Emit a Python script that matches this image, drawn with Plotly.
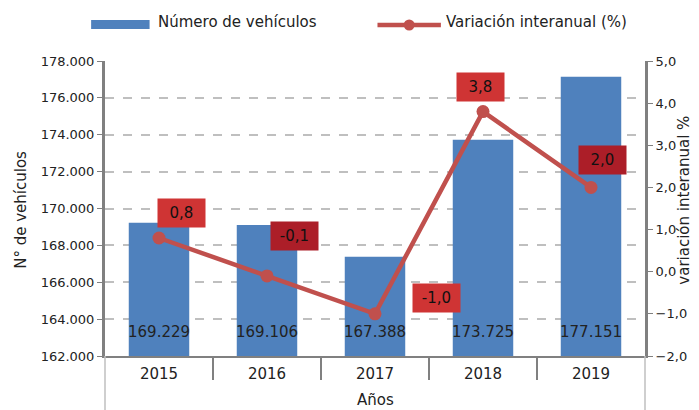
import plotly.graph_objects as go

years = ["2015", "2016", "2017", "2018", "2019"]
vehicles = [169229, 169106, 167388, 173725, 177151]
variation = [0.8, -0.1, -1.0, 3.8, 2.0]
var_labels = ["0,8", "-0,1", "-1,0", "3,8", "2,0"]
veh_labels = ["169.229", "169.106", "167.388", "173.725", "177.151"]

y1_range = [162000, 178000]
y2_range = [-2.0, 5.0]

BLUE = "#4F81BD"
RED = "#C0504D"
GRAY = "#808080"
FONT = "DejaVu Sans"
TXT = "#222222"

W, H = 699, 410
# plot area on screen spans x 105..650, y 61..356


def px(x):
    return (x - 105) / 545


def py(y):
    return (356 - y) / 295


fig = go.Figure()
fig.add_trace(go.Bar(x=list(range(5)), y=vehicles, marker=dict(color=BLUE, line=dict(width=0)),
                     width=0.56, showlegend=False, yaxis="y", hoverinfo="skip"))
fig.add_trace(go.Scatter(x=list(range(5)), y=variation, mode="lines+markers", yaxis="y2",
                         line=dict(color=RED, width=4.5), marker=dict(color=RED, size=13),
                         showlegend=False))

ann = []
for i, t in enumerate(veh_labels):
    ann.append(dict(x=i, y=y1_range[0], xref="x", yref="y", text=t, showarrow=False,
                    yanchor="bottom", yshift=13, font=dict(size=15, color=TXT, family=FONT)))
shifts = [(22, 25), (27, 40), (61, 16), (-3, 25), (11, 27)]
box_colors = ["#CF3434", "#AC1E28", "#CF3434", "#CF3434", "#AC1E28"]
for i, t in enumerate(var_labels):
    dx, dy = shifts[i]
    ann.append(dict(x=i, y=variation[i], xref="x", yref="y2", text=t, showarrow=False,
                    xshift=dx, yshift=dy, bgcolor=box_colors[i], borderpad=4,
                    width=39, height=20,
                    font=dict(size=15, color="#111111", family=FONT)))


def paper_text(x, y, text, angle=0, anchor="center", size=15):
    return dict(x=px(x), y=py(y), xref="paper", yref="paper", text=text, showarrow=False,
                textangle=angle, xanchor=anchor, yanchor="middle",
                font=dict(size=size, color=TXT, family=FONT))


ann.append(paper_text(20, 210, "N° de vehículos", -90))
ann.append(paper_text(689, 200, "variación interanual %", -90, size=15))
ann.append(paper_text(378, 400, "Años"))
ann.append(paper_text(156, 22, "Número de vehículos", anchor="left"))
ann.append(paper_text(447, 22, "Variación interanual (%)", anchor="left"))

shapes = []
shapes.append(dict(type="rect", xref="paper", yref="paper", x0=px(91), x1=px(150),
                   y0=py(29), y1=py(20), fillcolor=BLUE, line=dict(width=0)))
shapes.append(dict(type="line", xref="paper", yref="paper", x0=px(380), x1=px(444),
                   y0=py(25), y1=py(25), line=dict(color=RED, width=4.5)))
shapes.append(dict(type="circle", xref="paper", yref="paper", x0=px(406.5), x1=px(417.5),
                   y0=py(30.5), y1=py(19.5), fillcolor=RED, line=dict(width=0)))
for k in range(1, 5):
    xx = 105 + 109 * k
    shapes.append(dict(type="line", xref="paper", yref="paper", x0=px(xx), x1=px(xx),
                       y0=0, y1=py(380), line=dict(color=GRAY, width=2)))
for xx in (105, 650):
    shapes.append(dict(type="line", xref="paper", yref="paper", x0=px(xx), x1=px(xx),
                       y0=0, y1=py(415), line=dict(color="#BFBFBF", width=1.5)))

fig.update_layout(
    width=W, height=H,
    margin=dict(l=105, r=W - 650, t=61, b=H - 356),
    paper_bgcolor="white", plot_bgcolor="white",
    separators=",.",
    font=dict(family=FONT, size=13, color=TXT),
    xaxis=dict(type="linear", range=[-0.5, 4.5], tickvals=list(range(5)), ticktext=years,
               showgrid=False, zeroline=False, showline=True, linecolor=GRAY, linewidth=2,
               ticks="", tickfont=dict(size=15), ticklabelstandoff=3),
    yaxis=dict(range=y1_range, dtick=2000, tickformat=",d", showgrid=True,
               gridcolor="#BFBFBF", griddash="dash", gridwidth=1.5, zeroline=False,
               showline=True, linecolor=GRAY, linewidth=3, ticks="outside", ticklen=5,
               tickcolor=GRAY, tickfont=dict(size=13)),
    yaxis2=dict(range=y2_range, dtick=1.0, tickformat=".1f", overlaying="y", side="right",
                showgrid=False, zeroline=False, showline=True, linecolor=GRAY, linewidth=3,
                ticks="outside", ticklen=5, tickcolor=GRAY, tickfont=dict(size=13)),
    annotations=ann, shapes=shapes,
)

fig.write_html("out.html", config={"displayModeBar": False},
               post_script="document.body.style.margin='0';document.body.style.overflow='hidden';")
